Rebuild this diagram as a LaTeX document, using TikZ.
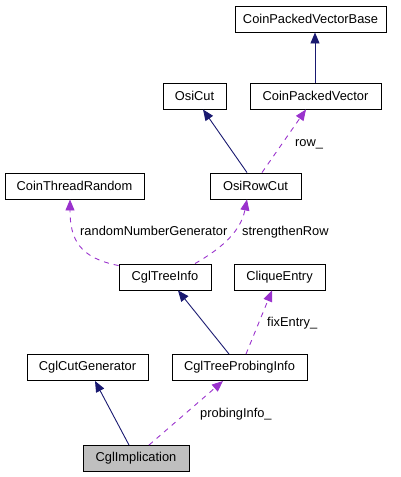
\documentclass[tikz,border=0pt]{standalone}
\usepackage{fontspec}
\setmainfont{Liberation Sans}
\usetikzlibrary{arrows.meta}
\definecolor{inh}{HTML}{191970}
\definecolor{dep}{HTML}{9A32CD}
\definecolor{hl}{HTML}{BFBFBF}
\begin{document}
\begin{tikzpicture}[x=1pt,y=-1pt,
  cls/.style={draw=black, line width=0.9pt, minimum height=26pt, inner sep=0pt,
    font=\fontsize{12.85}{15}\selectfont},
  lbl/.style={inner sep=0pt, anchor=base west, font=\fontsize{12.85}{15}\selectfont},
  inherit/.style={draw=inh, line width=0.9pt, -{Triangle[length=11pt,width=9pt]}},
  usage/.style={draw=dep, line width=0.9pt, dash pattern=on 5pt off 5pt,
    -{Triangle[length=11pt,width=9pt]}}]
\useasboundingbox (0,0) rectangle (401,477);
% nodes
\node[cls, minimum width=151pt] (cpvb) at (310.5,19) {CoinPackedVectorBase};
\node[cls, minimum width=63pt] (osicut) at (194.5,96) {OsiCut};
\node[cls, minimum width=131pt] (cpv) at (315.5,96) {CoinPackedVector};
\node[cls, minimum width=139pt] (ctr) at (74.5,186) {CoinThreadRandom};
\node[cls, minimum width=91pt] (osirc) at (255.5,186) {OsiRowCut};
\node[cls, minimum width=92pt] (ti) at (165,277) {CglTreeInfo};
\node[cls, minimum width=91pt] (ce) at (279.5,277) {CliqueEntry};
\node[cls, minimum width=121pt] (ccg) at (87.5,367.5) {CglCutGenerator};
\node[cls, minimum width=135pt] (ctpi) at (239.5,367.5) {CglTreeProbingInfo};
\node[cls, minimum width=106pt, fill=hl] (ci) at (136,458.5) {CglImplication};
% labels
\node[lbl] (lrow) at (295,146) {row\_};
\node[lbl] (lrng) at (80,235) {randomNumberGenerator};
\node[lbl] (lsr) at (242,235) {strengthenRow};
\node[lbl] (lfix) at (267,326) {fixEntry\_};
\node[lbl] (lpi) at (200,417) {probingInfo\_};
% edges
\draw[inherit] (cpv.north -| 315,0) -- (cpvb.south -| 315,0);
\draw[inherit] ([xshift=-8.5pt]osirc.north) -- ([xshift=8.5pt]osicut.south);
\draw[usage] ([xshift=6.5pt]osirc.north) -- ([xshift=-9.5pt]cpv.south);
\draw[usage] ([yshift=-2pt]ti.north west) .. controls (80,258) and (70,240) .. ([xshift=-4.5pt]ctr.south);
\draw[usage] ([xshift=30pt]ti.north) .. controls (215,252) and (240,235) .. ([xshift=-8.5pt]osirc.south);
\draw[inherit] ([xshift=-10.5pt]ctpi.north) -- ([xshift=13pt]ti.south);
\draw[usage] ([xshift=6.5pt]ctpi.north) -- ([xshift=-7.5pt]ce.south);
\draw[inherit] ([xshift=-7pt]ci.north) -- ([xshift=7.5pt]ccg.south);
\draw[usage] ([xshift=13pt]ci.north) -- ([xshift=-16.5pt]ctpi.south);
\end{tikzpicture}
\end{document}
